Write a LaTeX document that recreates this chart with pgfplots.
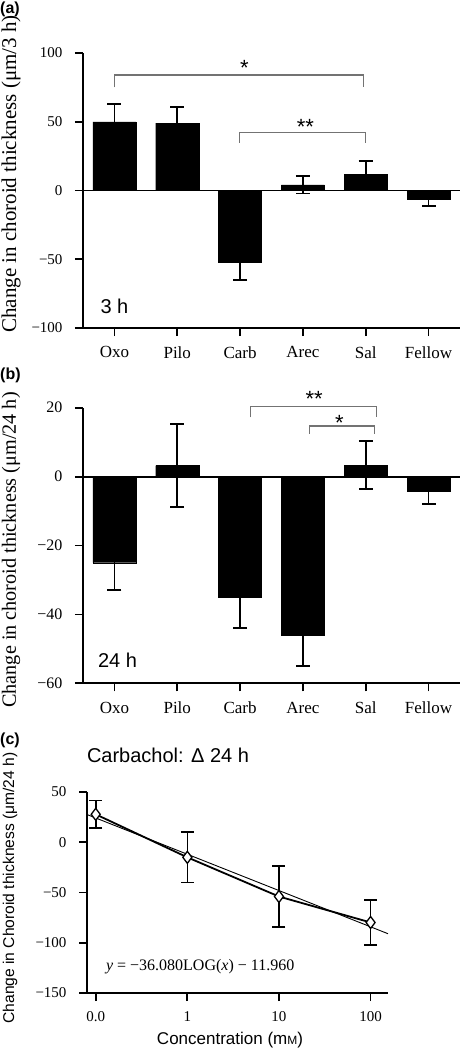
\documentclass[border=0pt]{standalone}
\usepackage{pgfplots}
\pgfplotsset{compat=1.18}
\usepackage{fontspec}
\setmainfont{Liberation Serif}
\setsansfont{Liberation Sans}
\definecolor{brk}{gray}{0.45}
\pgfplotsset{
  mybar/.style={
    scale only axis, width=377pt, height=275pt,
    axis lines=left, axis line style={-, line width=1.8pt},
    tick style={line width=1.8pt, black}, major tick length=8pt, tick align=outside,
    xmin=-0.5, xmax=5.5, xtick={0,...,5}, xticklabels={Oxo,Pilo,Carb,Arec,Sal,Fellow},
    yticklabel style={font=\fontsize{15}{15}\selectfont, xshift=-9pt},
    xticklabel style={font=\fontsize{17}{17}\selectfont, yshift=-7pt},
    ybar, bar width=43pt, enlargelimits=false, clip=false,
  },
  myerr/.style={fill=black, draw=black,
    error bars/.cd, y dir=both, y explicit,
    error bar style={line width=1.8pt, black},
    error mark options={rotate=90, mark size=7pt, line width=1.8pt, black}},
}
\pgfplotstableread{
x y e
0 50 13
1 49 11.5
2 -52 13.3
3 4.1 6.3
4 12 9.5
5 -6.5 4.9
}\dataA
\pgfplotstableread{
x y e
0 -25 8
1 3.2 12
2 -35 9
3 -46 9
4 3.3 7
5 -4.2 3.8
}\dataB
\pgfplotstableread{
x y e
0 27.8 13.6
1 -15 25
2 -54 30.4
3 -79.8 22.4
}\dataC
\begin{document}
\begin{tikzpicture}
\path[use as bounding box] (0,0) rectangle (460pt,-1050pt);
% ---------- (a)
\begin{axis}[mybar, at={(83pt,-53pt)}, anchor=north west,
  ymin=-100, ymax=100, ytick={-100,-50,0,50,100},
  yticklabels={−100,−50,0,50,100}]
\addplot[myerr] table[x=x, y=y, y error=e] {\dataA};
\draw[line width=1.8pt] (axis cs:-0.5,0) -- (axis cs:5.5,0);
\draw[brk, line width=1.1pt] (axis cs:0,75) -- (axis cs:0,84) -- (axis cs:3.97,84) -- (axis cs:3.97,75);
\draw[brk, line width=1.1pt] (axis cs:1.99,34.6) -- (axis cs:1.99,42.5) -- (axis cs:4.0,42.5) -- (axis cs:4.0,34.6);
\node[font=\sffamily\fontsize{22}{22}\selectfont] at (axis cs:2.07,89) {*};
\node[font=\sffamily\fontsize{22}{22}\selectfont] at (axis cs:3.04,46) {**};
\node[font=\sffamily\fontsize{20}{20}\selectfont] at (axis cs:0,-84) {3 h};
\end{axis}
% ---------- (b)
\begin{axis}[mybar, at={(83pt,-407.7pt)}, anchor=north west, height=275.6pt,
  ymin=-60, ymax=20, ytick={-60,-40,-20,0,20},
  yticklabels={−60,−40,−20,0,20},
  yticklabel style={font=\fontsize{16}{16}\selectfont}]
\addplot[myerr] table[x=x, y=y, y error=e] {\dataB};
\draw[line width=1.8pt] (axis cs:-0.5,0) -- (axis cs:5.5,0);
\draw[brk, line width=1.1pt] (axis cs:2.17,17.2) -- (axis cs:2.17,20.3) -- (axis cs:4.17,20.3) -- (axis cs:4.17,17.2);
\draw[brk, line width=1.1pt] (axis cs:3.11,12.4) -- (axis cs:3.11,14.7) -- (axis cs:4.14,14.7) -- (axis cs:4.14,12.4);
\node[font=\sffamily\fontsize{22}{22}\selectfont] at (axis cs:3.18,22.5) {**};
\node[font=\sffamily\fontsize{22}{22}\selectfont] at (axis cs:3.58,15.6) {*};
\node[font=\sffamily\fontsize{20}{20}\selectfont] at (axis cs:0.05,-53.4) {24 h};
\end{axis}
% ---------- (c)
\begin{axis}[at={(87pt,-792pt)}, anchor=north west, scale only axis,
  width=301pt, height=201pt,
  axis lines=left, axis line style={-, line width=1.8pt},
  tick style={line width=1.8pt, black}, major tick length=8pt, tick align=outside,
  xmin=-0.095, xmax=3.19, ymin=-150, ymax=50,
  xtick={0,1,2,3}, xticklabels={0.0,1,10,100},
  ytick={-150,-100,-50,0,50}, yticklabels={−150,−100,−50,0,50},
  yticklabel style={font=\fontsize{15}{15}\selectfont, xshift=-9pt},
  xticklabel style={font=\fontsize{15}{15}\selectfont, yshift=-7pt},
  enlargelimits=false, clip=false]
\addplot[black, line width=1.8pt, no marks,
  error bars/.cd, y dir=both, y explicit,
  error bar style={line width=1.6pt, black},
  error mark options={rotate=90, mark size=6.5pt, line width=1.6pt, black}]
  table[x=x, y=y, y error=e] {\dataC};
\addplot[black, line width=0.9pt, no marks] coordinates {(-0.095,27.6) (3.19,-91)};
\addplot[only marks, mark=diamond*, mark size=6pt,
  mark options={fill=white, draw=black, line width=1.3pt}]
  table[x=x, y=y] {\dataC};
\node[font=\fontsize{16}{16}\selectfont] at (axis cs:1.14,-124) {\textit{y} = −36.080LOG(\textit{x}) − 11.960};
\end{axis}
% ---------- labels
\node[rotate=90, font=\fontsize{21}{21}\selectfont] at (11pt,-174pt) {Change in choroid thickness (μm/3 h)};
\node[rotate=90, font=\fontsize{20.2}{20.2}\selectfont] at (11pt,-550pt) {Change in choroid thickness (μm/24 h)};
\node[rotate=90, font=\sffamily\fontsize{15.6}{15.6}\selectfont] at (10pt,-888pt) {Change in Choroid thickness (μm/24 h)};
\node[anchor=west, inner sep=0pt, font=\sffamily\bfseries\fontsize{16}{16}\selectfont] at (0pt,-9pt) {(a)};
\node[anchor=west, inner sep=0pt, font=\sffamily\bfseries\fontsize{16}{16}\selectfont] at (0pt,-375pt) {(b)};
\node[anchor=west, inner sep=0pt, font=\sffamily\bfseries\fontsize{16}{16}\selectfont] at (0pt,-740pt) {(c)};
\node[font=\sffamily\fontsize{20}{20}\selectfont] at (168pt,-755pt) {Carbachol: Δ 24 h};
\node[font=\sffamily\fontsize{17}{17}\selectfont] at (230pt,-1040pt) {Concentration (m{\fontsize{12}{12}\selectfont M})};
\end{tikzpicture}
\end{document}
